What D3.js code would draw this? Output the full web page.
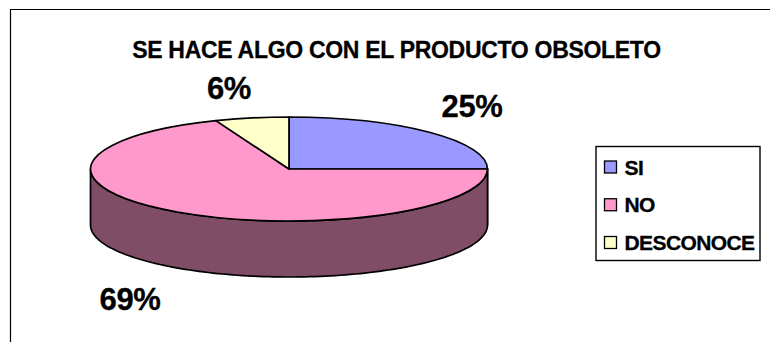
<!DOCTYPE html>
<html>
<head>
<meta charset="utf-8">
<script src="https://cdn.jsdelivr.net/npm/d3@7/dist/d3.min.js"></script>
<style>
html, body { margin: 0; padding: 0; background: #fff; }
svg { display: block; }
text { font-family: "Liberation Sans", Arial, sans-serif; font-weight: bold; fill: #000; stroke: #000; stroke-width: 0.3px; }
</style>
</head>
<body>
<svg id="chart" width="770" height="342"></svg>
<script>
const chartTitle = "SE HACE ALGO CON EL PRODUCTO OBSOLETO";
const categories = ["SI", "NO", "DESCONOCE"];
const percentages = [25, 69, 6];
const topColors = ["#9999FF", "#FF99CC", "#FFFFCC"];
const sideColors = ["#4D4D80", "#804D67", "#808067"];

const svg = d3.select("#chart");

// Disc geometry: an ellipse for the top face and a fixed wall height below it
const cx = 289, cy = 169, rx = 198.5, ry = 52, wall = 56;
const outline = 1.7;

// Frame: only the top and left edges fall inside the canvas
svg.append("path")
  .attr("d", "M770,9.5H10.5V342")
  .attr("fill", "none")
  .attr("stroke", "#000")
  .attr("stroke-width", 1.2);

svg.append("text")
  .attr("x", 396.5)
  .attr("y", 57.5)
  .attr("text-anchor", "middle")
  .attr("font-size", 23)
  .attr("letter-spacing", -0.3)
  .text(chartTitle);

const pie = d3.pie().sort(null).value(d => d);
const arcs = pie(percentages);

const ex = a => rx * Math.sin(a);
const ey = a => -ry * Math.cos(a);

// Wall: each slice contributes the part of its rim that faces the viewer
const wallArea = d3.area()
  .x(a => cx + ex(a))
  .y0(a => cy + ey(a))
  .y1(a => cy + ey(a) + wall);

const g = svg.append("g");

arcs.forEach((s, i) => {
  const from = Math.max(s.startAngle, Math.PI / 2);
  const to = Math.min(s.endAngle, 3 * Math.PI / 2);
  if (to <= from) return;
  g.append("path")
    .attr("d", wallArea(d3.range(0, 121).map(k => from + (to - from) * k / 120)))
    .attr("fill", sideColors[i])
    .attr("stroke", "#000")
    .attr("stroke-width", outline)
    .attr("stroke-linejoin", "round");
});

// Top face: circular sectors squashed into the ellipse
const arcGen = d3.arc().innerRadius(0).outerRadius(rx);
g.append("g")
  .attr("transform", `translate(${cx},${cy}) scale(1,${ry / rx})`)
  .selectAll("path")
  .data(arcs)
  .join("path")
  .attr("d", arcGen)
  .attr("fill", (d, i) => topColors[i])
  .attr("stroke", "#000")
  .attr("stroke-width", outline)
  .attr("stroke-linejoin", "round")
  .attr("vector-effect", "non-scaling-stroke");

// Percentage labels sit around the disc at hand-tuned anchors
const labelAnchors = [[472, 117], [130, 310], [229, 99]];
svg.append("g")
  .selectAll("text")
  .data(percentages)
  .join("text")
  .attr("x", (d, i) => labelAnchors[i][0])
  .attr("y", (d, i) => labelAnchors[i][1])
  .attr("text-anchor", "middle")
  .attr("font-size", 31)
  .attr("letter-spacing", -0.4)
  .text(d => d + "%");

// Legend box with one swatch and label per category
const legend = svg.append("g").attr("transform", "translate(596,146)");
legend.append("rect")
  .attr("x", 0)
  .attr("y", 0.5)
  .attr("width", 164)
  .attr("height", 114)
  .attr("fill", "#fff")
  .attr("stroke", "#000")
  .attr("stroke-width", 1.4);

const rowY = d3.scalePoint().domain(categories).range([21, 96.5]);
const rows = legend.selectAll("g")
  .data(categories)
  .join("g")
  .attr("transform", d => `translate(0,${rowY(d)})`);

rows.append("rect")
  .attr("x", 8.5).attr("y", -6)
  .attr("width", 12).attr("height", 12)
  .attr("fill", (d, i) => topColors[i])
  .attr("stroke", "#000")
  .attr("stroke-width", 1.3);

rows.append("text")
  .attr("x", 28.5)
  .attr("y", 7.5)
  .attr("font-size", 21)
  .attr("letter-spacing", -0.6)
  .text(d => d);
</script>
</body>
</html>
